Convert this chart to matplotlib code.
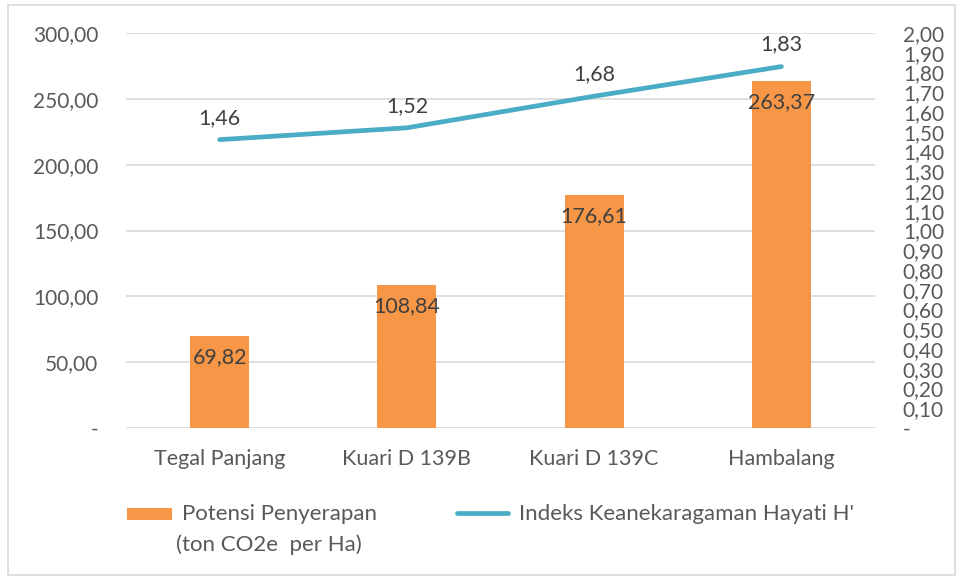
import matplotlib
matplotlib.use("Agg")
import matplotlib.pyplot as plt
from matplotlib.patches import Rectangle
from matplotlib.lines import Line2D
import numpy as np

categories = ["Tegal Panjang", "Kuari D 139B", "Kuari D 139C", "Hambalang"]
potensi = [69.82, 108.84, 176.61, 263.37]
indeks = [1.46, 1.52, 1.68, 1.83]
left_ticks = [0, 50, 100, 150, 200, 250, 300]
right_ticks = [round(0.1 * i, 2) for i in range(21)]

FONT = "Lato"
TXT = "#595959"
DARK = "#404040"
ORANGE = "#F79646"
TEAL = "#4BACC6"
GRID = "#D9D9D9"
FS_TICK = 15
FS_CAT = 15.5
FS_DATA = 15.5
FS_LEG = 16

plt.rcParams['font.family'] = [FONT, 'DejaVu Sans']

W, H = 958, 578
fig = plt.figure(figsize=(W / 100, H / 100), dpi=100)

def fx(px):
    return px / W

def fy(py):
    return 1 - py / H

ax = fig.add_axes([fx(126), fy(428), fx(875) - fx(126), fy(33) - fy(428)])
ax2 = ax.twinx()

x = np.arange(len(categories))

def fmt(v):
    if abs(v) < 1e-9:
        return "-"
    return f"{v:.2f}".replace(".", ",")

ax.set_xlim(-0.5, len(categories) - 0.5)
ax.set_ylim(0, 300)
ax2.set_ylim(0, 2.0)

ax.set_yticks(left_ticks)
ax.set_yticklabels([fmt(v) for v in left_ticks])
ax2.set_yticks(right_ticks)
ax2.set_yticklabels([fmt(v) for v in right_ticks])
ax.set_xticks(x)
ax.set_xticklabels(categories)

ax.grid(axis='y', color=GRID, linewidth=1.2)
ax.set_axisbelow(True)
for a in (ax, ax2):
    for s in a.spines.values():
        s.set_visible(False)
ax.tick_params(axis='y', length=0, pad=20, labelsize=FS_TICK, labelcolor=TXT)
ax.tick_params(axis='x', length=0, pad=15, labelsize=FS_CAT, labelcolor=TXT)
ax2.tick_params(axis='y', length=0, pad=20, labelsize=FS_TICK, labelcolor=TXT)

bars = ax.bar(x, potensi, width=0.315, color=ORANGE, zorder=2)
for xi, v in zip(x, potensi):
    ax.annotate(fmt(v), (xi, v), xytext=(0, -21), textcoords='offset pixels',
                ha='center', va='center', fontsize=FS_DATA, color=DARK, zorder=5)

ax2.plot(x, indeks, color=TEAL, linewidth=3.4, solid_capstyle='round', zorder=3)
for xi, v in zip(x, indeks):
    ax2.annotate(fmt(v), (xi, v), xytext=(0, 22), textcoords='offset pixels',
                 ha='center', va='center', fontsize=FS_DATA, color=DARK)

# Legend (drawn manually to match layout)
fig.patches.append(Rectangle((fx(127), fy(520)), fx(172) - fx(127), fy(508) - fy(520),
                             transform=fig.transFigure, facecolor=ORANGE, edgecolor='none'))
fig.text(fx(182), fy(514), "Potensi Penyerapan", fontsize=FS_LEG, color=TXT, va='center', ha='left')
fig.text(fx(176), fy(545), "(ton CO2e  per Ha)", fontsize=FS_LEG, color=TXT, va='center', ha='left')
fig.lines.append(Line2D([fx(457), fx(508)], [fy(513), fy(513)], transform=fig.transFigure,
                        color=TEAL, linewidth=3.4, solid_capstyle='round'))
fig.text(fx(519), fy(514), "Indeks Keanekaragaman Hayati H'", fontsize=FS_LEG, color=TXT,
         va='center', ha='left')

# Outer border
fig.patches.append(Rectangle((fx(8), fy(575)), fx(955) - fx(8), fy(5) - fy(575),
                             transform=fig.transFigure, facecolor='none', edgecolor=GRID,
                             linewidth=1.2))

fig.savefig("out.png", dpi=100)
